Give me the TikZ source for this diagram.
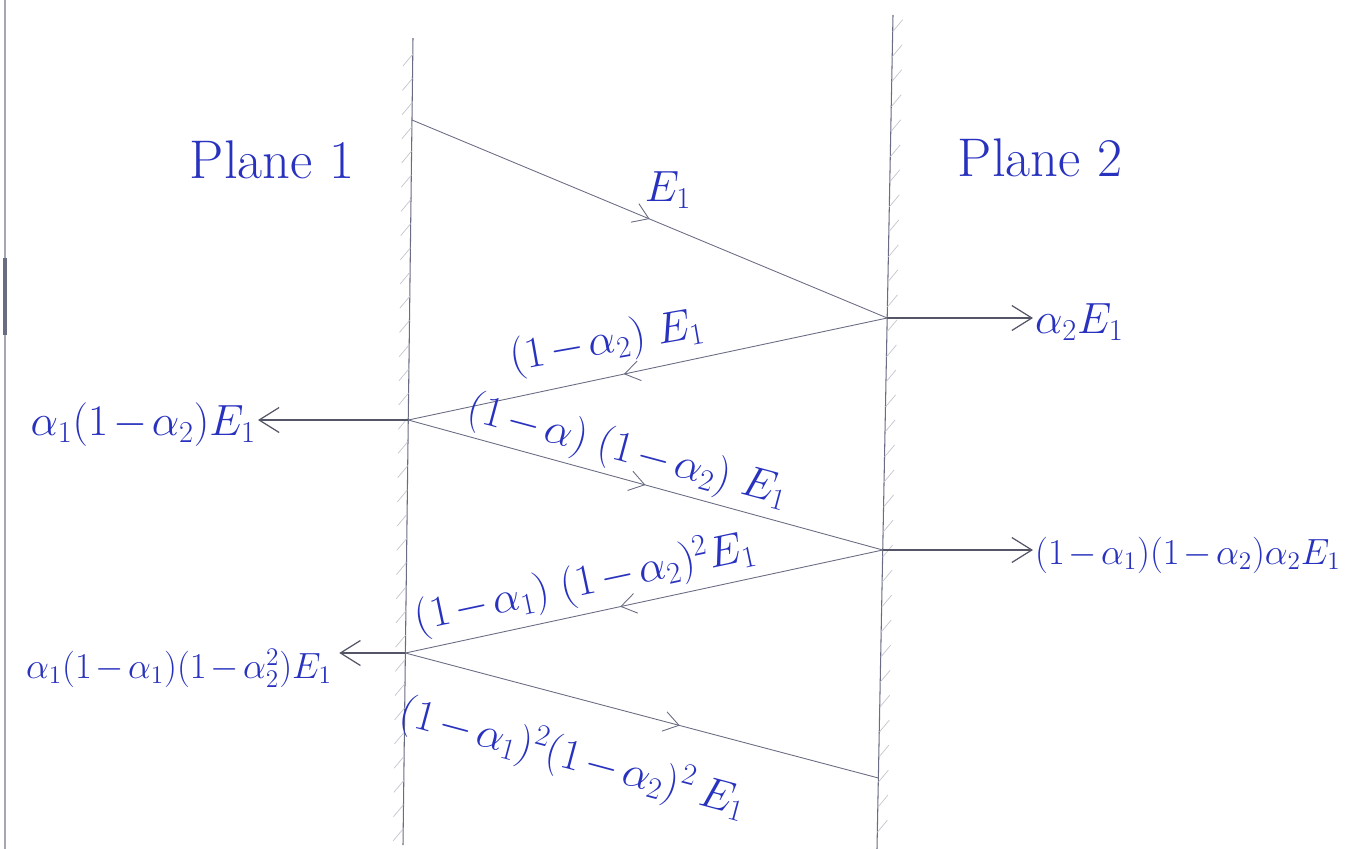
\documentclass[tikz,border=0pt]{standalone}
\usetikzlibrary{arrows.meta,calc,decorations.markings}
\definecolor{pen}{RGB}{40,50,190}
\definecolor{pencil}{RGB}{105,108,130}
\medmuskip=2mu
\begin{document}
\begin{tikzpicture}[x=.02cm,y=-.02cm,
  lbl/.style={text=pen,font=\fontsize{23}{27}\selectfont,inner sep=1pt},
  edge lbl/.style={lbl,font=\fontsize{21.5}{25}\selectfont},
  ray/.style={pencil,line width=.5pt,postaction={decorate},
    decoration={markings,mark=at position #1 with {\arrow{Straight Barb[length=3mm,width=4mm]}}}},
  ray/.default=.55,
  outarrow/.style={pencil!80!black,line width=.7pt,-{Straight Barb[length=4mm,width=5mm]}},
  hatch/.style={pencil!40,line width=.4pt}]
\useasboundingbox (0,0) rectangle (1367,849);
\draw[pencil!60,line width=.6pt] (5,0) -- (5,849);
\draw[pencil,line width=2pt] (5,258) -- (5,335);
\coordinate (p1t) at (413,38);
\coordinate (p1b) at (403,845);
\coordinate (p2t) at (893,15);
\coordinate (p2b) at (877,849);
\draw[pencil,line width=.6pt] (p1t) -- (p1b);
\draw[pencil,line width=.6pt] (p2t) -- (p2b);
\foreach \t in {0.02,0.05,...,0.99} {
  \draw[hatch] ($(p1t)!\t!(p1b)$) -- ++(-10,12);
  \draw[hatch] ($(p2t)!\t!(p2b)$) -- ++(10,-12);
}
\coordinate (A) at (412,120);
\coordinate (B) at (887.2,318);
\coordinate (C) at (408.3,420);
\coordinate (D) at (882.7,550);
\coordinate (E) at (405.4,653);
\coordinate (F) at (878.4,778);
\draw[ray=.5] (A) -- (B);
\draw[ray=.55] (B) -- (C);
\draw[ray=.5] (C) -- (D);
\draw[ray=.55] (D) -- (E);
\draw[ray=.58] (E) -- (F);
\node[lbl,font=\fontsize{31}{36}\selectfont] (plane1) at (272,160) {Plane 1};
\node[lbl,font=\fontsize{31}{36}\selectfont] (plane2) at (1040,158) {Plane 2};
\node[lbl] (eAB) at (668,190) {$E_1$};
\node[lbl,rotate=10] (eBC) at (607,343) {$(1-\alpha_2)\;E_1$};
\node[lbl,rotate=-15] (eCD) at (628,452) {$(1-\alpha)\;(1-\alpha_2)\;E_1$};
\node[lbl,rotate=12] (eDE) at (585,583) {$(1-\alpha_1)\;(1-\alpha_2)^2E_1$};
\node[lbl,rotate=-15] (eEF) at (573,758) {$(1-\alpha_1)^2(1-\alpha_2)^2\,E_1$};
\node[lbl,anchor=west] (outB) at (1033,322) {$\alpha_2E_1$};
\node[lbl,anchor=east] (outC) at (258,425) {$\alpha_1(1-\alpha_2)E_1$};
\node[edge lbl,anchor=west] (outD) at (1033,555) {$(1-\alpha_1)(1-\alpha_2)\alpha_2E_1$};
\node[edge lbl,anchor=east] (outE) at (334,668) {$\alpha_1(1-\alpha_1)(1-\alpha_2^2)E_1$};
\draw[outarrow] (B) -- (outB.west |- B);
\draw[outarrow] (C) -- (outC.east |- C);
\draw[outarrow] (D) -- (outD.west |- D);
\draw[outarrow,shorten >=3pt] (E) -- (outE.east |- E);
\end{tikzpicture}
\end{document}
